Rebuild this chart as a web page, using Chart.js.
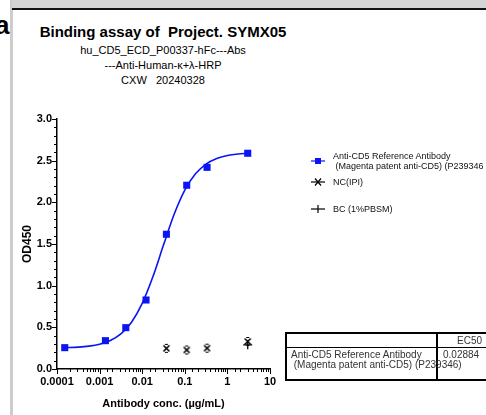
<!DOCTYPE html>
<html>
<head>
<meta charset="utf-8">
<script src="https://cdn.jsdelivr.net/npm/chart.js@4.4.1/dist/chart.umd.min.js"></script>
<style>
  html, body { margin: 0; padding: 0; background: #fff; }
  body { width: 486px; height: 415px; position: relative; overflow: hidden;
         font-family: "Liberation Sans", Arial, sans-serif; color: #000; }
  #chart { position: absolute; left: 0; top: 0; }
  .abs { position: absolute; white-space: pre; }
  .topbar { left: 12px; top: 0; width: 474px; height: 8px; background: #d4d4d4; }
  .topline { left: 12px; top: 8px; width: 474px; height: 2px; background: #111; }
  .leftbar { left: 10px; top: 0; width: 3px; height: 415px; background: #cdcdcd; }
  .tag { left: -5px; top: 10px; font: bold 26px "Liberation Sans", Arial, sans-serif; }
  .title { left: 13px; width: 300px; text-align: center; }
  .t1 { top: 24px; font-weight: bold; font-size: 15px; line-height: 16px; }
  .t2 { top: 43px; font-size: 11px; line-height: 15px; }
  .leg { font-size: 9px; line-height: 10px; color: #111; }
  .tbl-line { background: #000; }
  .cell { font-size: 10px; line-height: 10px; color: #333; }
</style>
</head>
<body>
<div class="abs leftbar"></div>
<div class="abs topbar"></div>
<div class="abs topline"></div>
<div class="abs tag">a</div>

<div class="abs title t1">Binding assay of  Project. SYMX05</div>
<div class="abs title t2">hu_CD5_ECD_P00337-hFc---Abs
---Anti-Human-κ+λ-HRP
CXW   20240328</div>

<canvas id="chart" width="486" height="415"></canvas>

<!-- legend -->
<canvas id="lg0" class="abs" width="16" height="10" style="left:310px;top:156px"></canvas>
<div class="abs leg" style="left:333px;top:151px">Anti-CD5 Reference Antibody
 (Magenta patent anti-CD5) (P239346</div>
<canvas id="lg1" class="abs" width="16" height="10" style="left:310px;top:177px"></canvas>
<div class="abs leg" style="left:333px;top:177px">NC(IPI)</div>
<canvas id="lg2" class="abs" width="16" height="10" style="left:310px;top:204px"></canvas>
<div class="abs leg" style="left:333px;top:204px">BC (1%PBSM)</div>

<!-- EC50 table -->
<div class="abs tbl-line" style="left:285px;top:332px;width:210px;height:2px"></div>
<div class="abs tbl-line" style="left:285px;top:347px;width:210px;height:1px"></div>
<div class="abs tbl-line" style="left:285px;top:379px;width:210px;height:2px"></div>
<div class="abs tbl-line" style="left:285px;top:332px;width:1.5px;height:49px"></div>
<div class="abs tbl-line" style="left:436px;top:332px;width:1.5px;height:49px"></div>
<div class="abs cell" style="left:440px;width:42px;top:336px;text-align:right">EC50</div>
<div class="abs cell" style="left:291px;top:350px">Anti-CD5 Reference Antibody
 (Magenta patent anti-CD5) (P239346)</div>
<div class="abs cell" style="left:443px;top:350px">0.02884</div>

<script>
// reference antibody, measured points
const conc = [0.000152, 0.00137, 0.00412, 0.0123, 0.037, 0.111, 0.333, 3];
const refOD = [0.256, 0.34, 0.496, 0.828, 1.617, 2.205, 2.42, 2.589];

// fitted curve
const fitConc = [0.000152, 0.000316, 0.000562, 0.001, 0.00178, 0.00316, 0.00562, 0.01,
                 0.0178, 0.0316, 0.0562, 0.1, 0.178, 0.316, 0.562, 1, 1.78, 3];
const fitOD = [0.256, 0.263, 0.275, 0.298, 0.342, 0.421, 0.561, 0.787,
               1.106, 1.487, 1.856, 2.146, 2.342, 2.459, 2.525, 2.561, 2.58, 2.589];

// controls
const ncConc = [0.037, 0.111, 0.333, 3];
const ncOD = [0.248, 0.228, 0.25, 0.33];
const bcConc = [3];
const bcOD = [0.29];

const xTickLabels = ['0.0001', '0.001', '0.01', '0.1', '1', '10'];
const yTickLabels = ['0.0', '0.5', '1.0', '1.5', '2.0', '2.5', '3.0'];

const blue = '#0a14f5';

function ncMarker() {
  let c = document.createElement('canvas');
  c.width = 9; c.height = 11;
  let g = c.getContext('2d');
  g.strokeStyle = '#000';
  g.lineWidth = 1.6;
  g.beginPath();
  g.moveTo(1.5, 2.5); g.lineTo(7.5, 8.5);
  g.moveTo(7.5, 2.5); g.lineTo(1.5, 8.5);
  g.stroke();
  g.lineWidth = 1.2;
  g.beginPath();
  g.moveTo(3, 1.5); g.lineTo(6, 1.5);
  g.moveTo(3, 9.5); g.lineTo(6, 9.5);
  g.stroke();
  return c;
}
const ncStyle = ncMarker();

function legendSymbol(id, kind) {
  let g = document.getElementById(id).getContext('2d');
  g.strokeStyle = kind == 'ref' ? blue : '#000';
  g.lineWidth = 1.2;
  g.beginPath();
  g.moveTo(1, 5); g.lineTo(15, 5);
  g.stroke();
  if (kind == 'ref') {
    g.fillStyle = blue;
    g.fillRect(5, 2, 6, 6);
  } else if (kind == 'nc') {
    g.beginPath();
    g.moveTo(5, 1.5); g.lineTo(11, 8.5);
    g.moveTo(11, 1.5); g.lineTo(5, 8.5);
    g.stroke();
  } else {
    g.beginPath();
    g.moveTo(8, 1); g.lineTo(8, 9);
    g.stroke();
  }
}
legendSymbol('lg0', 'ref');
legendSymbol('lg1', 'nc');
legendSymbol('lg2', 'bc');

function pts(xs, ys) {
  return xs.map((x, i) => ({x: x, y: ys[i]}));
}

// major / minor tick marks on the axes
const tickMarks = {
  id: 'tickMarks',
  afterDraw(chart) {
    const ctx = chart.ctx;
    const xs = chart.scales.x, ys = chart.scales.y;
    ctx.save();
    ctx.strokeStyle = '#000';
    ctx.lineWidth = 1;
    ys.ticks.forEach(t => {
      let major = Math.abs(t.value * 2 - Math.round(t.value * 2)) < 1e-6;
      let py = Math.round(ys.getPixelForValue(t.value)) + 0.5;
      ctx.beginPath();
      ctx.moveTo(xs.left, py);
      ctx.lineTo(xs.left - (major ? 5 : 3), py);
      ctx.stroke();
    });
    xs.ticks.forEach(t => {
      let lg = Math.log10(t.value);
      let major = Math.abs(lg - Math.round(lg)) < 1e-6;
      let px = Math.round(xs.getPixelForValue(t.value)) + 0.5;
      ctx.beginPath();
      ctx.moveTo(px, ys.bottom);
      ctx.lineTo(px, ys.bottom + (major ? 5 : 3));
      ctx.stroke();
    });
    ctx.restore();
  }
};

new Chart(document.getElementById('chart'), {
  type: 'scatter',
  data: {
    datasets: [
      {
        label: 'fit',
        data: pts(fitConc, fitOD),
        showLine: true,
        borderColor: blue,
        borderWidth: 1.6,
        pointRadius: 0,
        cubicInterpolationMode: 'monotone'
      },
      {
        label: 'Anti-CD5 Reference Antibody',
        data: pts(conc, refOD),
        pointStyle: 'rect',
        pointRadius: 5,
        backgroundColor: blue,
        borderColor: blue,
        borderWidth: 0
      },
      {
        label: 'NC(IPI)',
        data: pts(ncConc, ncOD),
        pointStyle: ncStyle
      },
      {
        label: 'BC (1%PBSM)',
        data: pts(bcConc, bcOD),
        pointStyle: 'cross',
        pointRadius: 4.5,
        borderColor: '#000',
        borderWidth: 1.3
      }
    ]
  },
  options: {
    responsive: false,
    animation: false,
    layout: { padding: { left: 16, top: 119, right: 216, bottom: 0 } },
    plugins: { legend: { display: false }, tooltip: { enabled: false } },
    scales: {
      x: {
        type: 'logarithmic',
        min: 0.0001,
        max: 10,
        afterFit: (s) => { s.height = 46; },
        border: { color: '#000', width: 1.5 },
        grid: { display: false, drawTicks: true, tickLength: 4 },
        ticks: {
          autoSkip: false,
          maxRotation: 0,
          padding: 2,
          color: '#000',
          font: { family: '"Liberation Sans", Arial, sans-serif', size: 11, weight: 'bold' },
          callback: (v) => {
            let lg = Math.log10(v);
            if (Math.abs(lg - Math.round(lg)) > 1e-6) return '';
            return xTickLabels[Math.round(lg) + 4];
          }
        },
        title: {
          display: true,
          text: 'Antibody conc. (µg/mL)',
          color: '#000',
          padding: { top: 2, bottom: 4 },
          font: { family: '"Liberation Sans", Arial, sans-serif', size: 11, weight: 'bold' }
        }
      },
      y: {
        min: 0,
        max: 3,
        afterFit: (s) => { s.width = 41; },
        border: { color: '#000', width: 1.5 },
        grid: { display: false, drawTicks: true, tickLength: 4 },
        ticks: {
          stepSize: 0.1,
          autoSkip: false,
          padding: 1,
          color: '#000',
          font: { family: '"Liberation Sans", Arial, sans-serif', size: 11, weight: 'bold' },
          callback: (v) => {
            if (Math.abs(v * 2 - Math.round(v * 2)) > 1e-6) return '';
            return yTickLabels[Math.round(v * 2)];
          }
        },
        title: {
          display: true,
          text: 'OD450',
          color: '#000',
          padding: { top: 4, bottom: 4 },
          font: { family: '"Liberation Sans", Arial, sans-serif', size: 12, weight: 'bold' }
        }
      }
    }
  },
  plugins: [tickMarks]
});
</script>
</body>
</html>
